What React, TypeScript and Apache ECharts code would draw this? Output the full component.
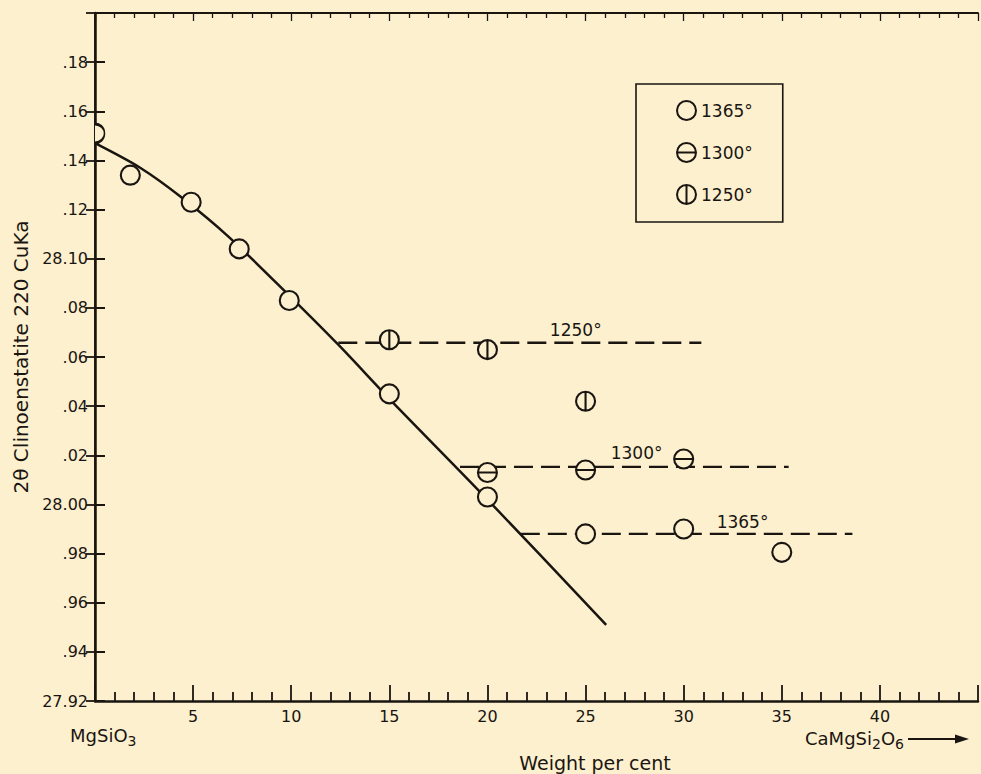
import React, { useEffect, useRef } from "react";
import * as echarts from "echarts";

const INK = "#1a1511";
const BG = "#fcf0cf";
const FONT = "DejaVu Sans";

const xMin = 0, xMax = 45, xInterval = 5;
const yMin = 27.92, yMax = 28.2, yInterval = 0.02;
const xTickLabels = ["", "5", "10", "15", "20", "25", "30", "35", "40", ""];
const yTickLabels = ["27.92", ".94", ".96", ".98", "28.00", ".02", ".04", ".06", ".08", "28.10", ".12", ".14", ".16", ".18", ""];

const pts1365 = [[1.8, 28.134], [4.9, 28.123], [7.35, 28.104], [9.9, 28.083], [15, 28.045], [20, 28.003], [25, 27.988], [30, 27.99], [35, 27.9805]];
const pts1365Edge = [[0, 28.151]];
const pts1300 = [[20, 28.013], [25, 28.014], [30, 28.0185]];
const pts1250 = [[15, 28.067], [20, 28.063], [25, 28.042]];
const curve = [[0, 28.147], [2.3, 28.137], [4.4, 28.125], [6.8, 28.109], [9.9, 28.085], [12.4, 28.065], [15, 28.043], [20, 28.002], [26.05, 27.951]];
const dash1250 = [[12.4, 28.0658], [30.9, 28.0658]];
const dash1300 = [[18.6, 28.0153], [35.35, 28.0153]];
const dash1365 = [[21.7, 27.988], [38.6, 27.988]];
const tempNames = ["1250°", "1300°", "1365°"];
const tempLabelPos = [[24.5, 28.071], [27.6, 28.021], [33.0, 27.993]];

const circlePath = "path://M0,10A10,10,0,1,1,20,10A10,10,0,1,1,0,10Z";
const hPath = circlePath + "M0,10L20,10";
const vPath = circlePath + "M10,0L10,20";
const halfPath = "path://M0,0A10,10,0,0,1,0,20";

export default function App() {
  const ref = useRef<HTMLDivElement>(null);
  useEffect(() => {
    const chart = echarts.init(ref.current!, null, { renderer: "svg" });
    const symStyle = { color: BG, borderColor: INK, borderWidth: 2.1, opacity: 1 };
    const dashStyle = { color: INK, width: 2.4, type: [19, 8] as any };
    chart.setOption({
      animation: false,
      backgroundColor: BG,
      textStyle: { fontFamily: FONT, color: INK },
      grid: { left: 95, top: 13, right: -5, bottom: 73 },
      legend: {
        orient: "vertical",
        left: 636,
        top: 84,
        padding: [16, 30, 17, 40],
        itemGap: 21,
        itemWidth: 19,
        itemHeight: 19,
        borderColor: INK,
        borderWidth: 1.6,
        itemStyle: { color: BG, borderColor: INK, borderWidth: 2, opacity: 1 },
        textStyle: { fontFamily: FONT, fontSize: 17, color: INK },
        data: [
          { name: "1365°", icon: circlePath },
          { name: "1300°", icon: hPath },
          { name: "1250°", icon: vPath },
        ],
      },
      xAxis: [
        {
          type: "value", min: xMin, max: xMax, interval: xInterval, position: "bottom",
          axisLine: { lineStyle: { color: INK, width: 2.5 } },
          axisTick: { inside: true, length: 16, lineStyle: { color: INK, width: 1.8 } },
          minorTick: { show: true, splitNumber: 5, length: 9, lineStyle: { color: INK, width: 1.8 } },
          splitLine: { show: false },
          axisLabel: {
            margin: 7, fontSize: 16, color: INK, fontFamily: FONT,
            formatter: (v: number) => xTickLabels[Math.round((v - xMin) / xInterval)] ?? "",
          },
        },
        {
          type: "value", min: xMin, max: xMax, interval: xInterval, position: "top",
          axisLine: { onZero: false, lineStyle: { color: INK, width: 1.8 } },
          axisTick: { inside: true, length: 8, lineStyle: { color: INK, width: 1.3 } },
          minorTick: { show: true, splitNumber: 5, length: 5, lineStyle: { color: INK, width: 1.3 } },
          splitLine: { show: false },
          axisLabel: { show: false },
        },
      ],
      yAxis: [
        {
          type: "value", min: yMin, max: yMax, interval: yInterval, position: "left",
          name: "2θ Clinoenstatite 220 CuKa",
          nameLocation: "middle",
          nameGap: 60,
          nameTextStyle: { fontSize: 20, color: INK, fontFamily: FONT },
          axisLine: { lineStyle: { color: INK, width: 2.5 } },
          axisTick: { inside: true, length: 10, lineStyle: { color: INK, width: 2 } },
          splitLine: { show: false },
          axisLabel: {
            margin: 7, fontSize: 16, color: INK, fontFamily: FONT,
            formatter: (v: number) => yTickLabels[Math.round((v - yMin) / yInterval)] ?? "",
          },
        },
        {
          type: "value", min: yMin, max: yMax, interval: yInterval, position: "right",
          axisLine: { lineStyle: { color: INK, width: 1.8 } },
          axisTick: { inside: true, length: 9, lineStyle: { color: INK, width: 1.8 } },
          splitLine: { show: false },
          axisLabel: { show: false },
        },
      ],
      series: [
        { name: "curve", type: "line", data: curve, symbol: "none", smooth: 0.3, z: 2, lineStyle: { color: INK, width: 2.5 } },
        { name: "d1250", type: "line", data: dash1250, symbol: "none", z: 2, lineStyle: dashStyle },
        { name: "d1300", type: "line", data: dash1300, symbol: "none", z: 2, lineStyle: dashStyle },
        { name: "d1365", type: "line", data: dash1365, symbol: "none", z: 2, lineStyle: dashStyle },
        { name: "1365°", type: "scatter", data: pts1365, symbol: circlePath, symbolSize: 19, z: 4, itemStyle: symStyle },
        { name: "edge", type: "scatter", data: pts1365Edge, symbol: halfPath, symbolSize: [9.5, 19], symbolOffset: [4.75, 0], z: 4, itemStyle: symStyle },
        { name: "1300°", type: "scatter", data: pts1300, symbol: hPath, symbolSize: 19, z: 4, itemStyle: symStyle },
        { name: "1250°", type: "scatter", data: pts1250, symbol: vPath, symbolSize: 19, z: 4, itemStyle: symStyle },
        {
          name: "labels", type: "scatter", symbolSize: 0, z: 5,
          itemStyle: { opacity: 1 },
          data: tempNames.map((n, i) => ({ name: n, value: tempLabelPos[i] })),
          label: { show: true, position: "inside", formatter: "{b}", fontSize: 17, color: INK, fontFamily: FONT, opacity: 1 },
        },
      ],
      graphic: [
        {
          type: "text", left: 70, top: 726,
          style: {
            text: "{a|MgSiO}{s|3}",
            rich: {
              a: { fontSize: 18, fontFamily: FONT, fill: INK, lineHeight: 22, verticalAlign: "top" },
              s: { fontSize: 14, fontFamily: FONT, fill: INK, lineHeight: 14, verticalAlign: "bottom" },
            },
          },
        },
        {
          type: "text", left: 805, top: 729,
          style: {
            text: "{a|CaMgSi}{s|2}{a|O}{s|6}",
            rich: {
              a: { fontSize: 18, fontFamily: FONT, fill: INK, lineHeight: 22, verticalAlign: "top" },
              s: { fontSize: 14, fontFamily: FONT, fill: INK, lineHeight: 14, verticalAlign: "bottom" },
            },
          },
        },
        { type: "line", shape: { x1: 908, y1: 739, x2: 960, y2: 739 }, style: { stroke: INK, lineWidth: 1.8 } },
        { type: "polygon", shape: { points: [[969, 739], [955, 734.5], [955, 743.5]] }, style: { fill: INK } },
        {
          type: "text", x: 595, y: 763,
          style: { text: "Weight per cent", fontSize: 19, fontFamily: FONT, fill: INK, align: "center", verticalAlign: "middle" },
        },
      ],
    });
    return () => chart.dispose();
  }, []);
  return <div ref={ref} style={{ position: "absolute", left: 0, top: 0, width: 981, height: 774, background: BG }} />;
}
